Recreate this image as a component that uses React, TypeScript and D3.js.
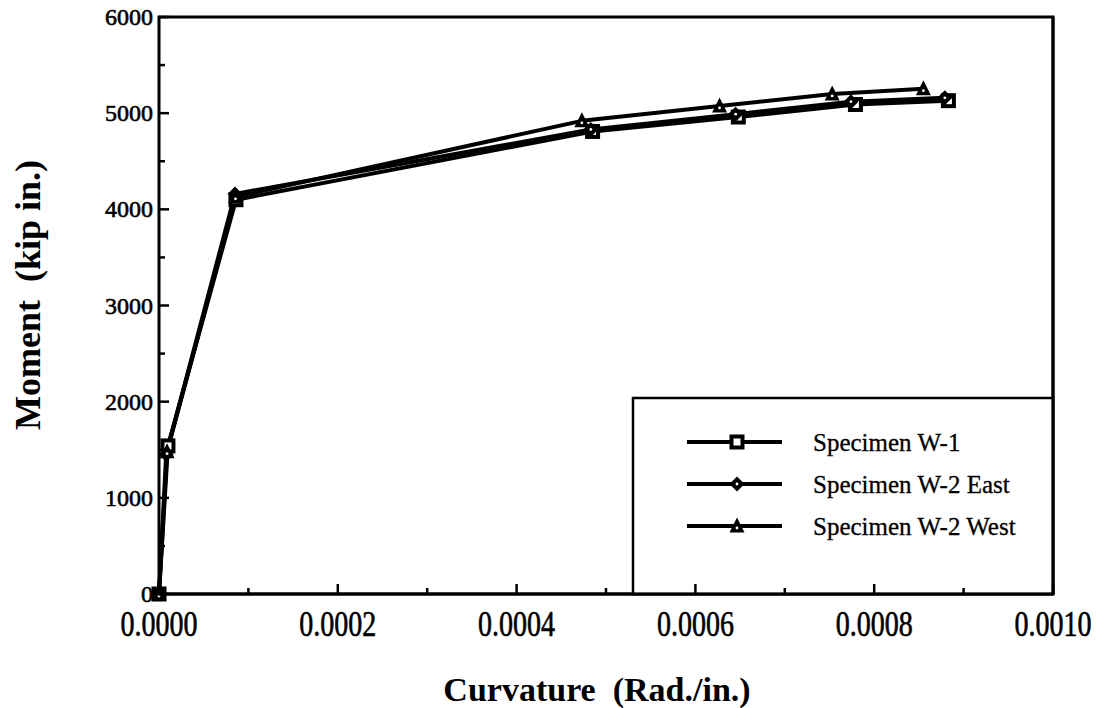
import React from "react";
import * as d3 from "d3";

const seriesNames = ["Specimen W-1", "Specimen W-2 East", "Specimen W-2 West"];
const curvatureW1 = [0, 0.00001, 0.0000861, 0.000485, 0.000648, 0.000779, 0.000883];
const momentW1 = [0, 1540, 4100, 4810, 4960, 5090, 5130];
const curvatureEast = [0, 0.000008, 0.000085, 0.000483, 0.000645, 0.000774, 0.000879];
const momentEast = [0, 1450, 4160, 4830, 4990, 5120, 5160];
const curvatureWest = [0, 0.000009, 0.0000855, 0.000473, 0.000627, 0.000753, 0.000855];
const momentWest = [0, 1480, 4130, 4920, 5075, 5200, 5255];
const xTickValues = [0, 0.0002, 0.0004, 0.0006, 0.0008, 0.001];
const xTickLabels = ["0.0000", "0.0002", "0.0004", "0.0006", "0.0008", "0.0010"];
const yTickValues = [0, 1000, 2000, 3000, 4000, 5000, 6000];
const yTickLabels = ["0", "1000", "2000", "3000", "4000", "5000", "6000"];
const xMinorTicks = [0.0001, 0.0003, 0.0005, 0.0007, 0.0009];
const yMinorTicks = [500, 1500, 2500, 3500, 4500, 5500];

const W = 1098, H = 708;
const L = 159, R = 1053, T = 17, B = 594;
const FONT = "'Liberation Serif', 'Times New Roman', serif";

function Marker({ kind, x, y }: { kind: string; x: number; y: number }) {
  if (kind === "square") {
    return (
      <g>
        <rect x={x - 5.5} y={y - 5.5} width={11} height={11} fill="#fff" stroke="#000" strokeWidth={4} />
        <rect x={x - 1} y={y - 1} width={2} height={2} fill="#fff" />
      </g>
    );
  }
  if (kind === "diamond") {
    const s = 7.5;
    return (
      <g>
        <path d={`M${x},${y - s}L${x + s},${y}L${x},${y + s}L${x - s},${y}Z`} fill="#000" />
        <circle cx={x} cy={y} r={1.4} fill="#fff" />
      </g>
    );
  }
  const s = 7.5;
  return (
    <g>
      <path d={`M${x},${y - s - 1}L${x + s},${y + s - 1}L${x - s},${y + s - 1}Z`} fill="#000" />
      <circle cx={x} cy={y + 2} r={1.4} fill="#fff" />
    </g>
  );
}

export default function App() {
  const x = d3.scaleLinear().domain([0, 0.001]).range([L, R]);
  const y = d3.scaleLinear().domain([0, 6000]).range([B, T]);
  const series = [
    { name: seriesNames[0], xs: curvatureW1, ys: momentW1, kind: "square" },
    { name: seriesNames[1], xs: curvatureEast, ys: momentEast, kind: "diamond" },
    { name: seriesNames[2], xs: curvatureWest, ys: momentWest, kind: "triangle" },
  ];
  const line = d3
    .line<[number, number]>()
    .x((d) => x(d[0]))
    .y((d) => y(d[1]));

  const legX = 633, legY = 398;
  const legRows = [442, 484, 526];

  return (
    <svg
      width={W}
      height={H}
      style={{ position: "absolute", left: 0, top: 0, display: "block", background: "#fff" }}
    >
      <rect x={0} y={0} width={W} height={H} fill="#fff" />
      {series.map((s) => (
        <path
          key={s.name}
          d={line(s.xs.map((v, i) => [v, s.ys[i]] as [number, number])) || ""}
          fill="none"
          stroke="#000"
          strokeWidth={4}
          strokeLinejoin="round"
        />
      ))}
      {series.map((s) =>
        s.xs.map((v, i) => <Marker key={s.name + i} kind={s.kind} x={x(v)} y={y(s.ys[i])} />)
      )}
      <rect x={L} y={T} width={R - L} height={B - T} fill="none" stroke="#000" strokeWidth={3} />
      {yTickValues.map((v) => (
        <line key={"yt" + v} x1={L} x2={L + 10} y1={y(v)} y2={y(v)} stroke="#000" strokeWidth={2.5} />
      ))}
      {yMinorTicks.map((v) => (
        <line key={"ym" + v} x1={L} x2={L + 6} y1={y(v)} y2={y(v)} stroke="#000" strokeWidth={2.5} />
      ))}
      {xTickValues.map((v) => (
        <line key={"xt" + v} x1={x(v)} x2={x(v)} y1={B} y2={B - 10} stroke="#000" strokeWidth={2.5} />
      ))}
      {xMinorTicks.map((v) => (
        <line key={"xm" + v} x1={x(v)} x2={x(v)} y1={B} y2={B - 6} stroke="#000" strokeWidth={2.5} />
      ))}
      {yTickValues.map((v, i) => (
        <text
          key={"yl" + v}
          x={L - 6}
          y={y(v) + 8}
          textAnchor="end"
          fontFamily={FONT}
          fontSize={24}
          fill="#000"
          stroke="#000"
          strokeWidth={0.6}
        >
          {yTickLabels[i]}
        </text>
      ))}
      {xTickValues.map((v, i) => (
        <text
          key={"xl" + v}
          transform={`translate(${x(v)},636) scale(1,1.25)`}
          textAnchor="middle"
          fontFamily={FONT}
          fontSize={28}
          fill="#000"
          stroke="#000"
          strokeWidth={0.5}
        >
          {xTickLabels[i]}
        </text>
      ))}
      <text
        x={597}
        y={701}
        textAnchor="middle"
        fontFamily={FONT}
        fontSize={34}
        fontWeight="bold"
        fill="#000"
        style={{ whiteSpace: "pre" }}
      >
        {"Curvature  (Rad./in.)"}
      </text>
      <text
        transform="translate(40,295) rotate(-90)"
        textAnchor="middle"
        fontFamily={FONT}
        fontSize={36}
        fontWeight="bold"
        fill="#000"
        style={{ whiteSpace: "pre" }}
      >
        {"Moment  (kip in.)"}
      </text>
      <rect x={legX} y={legY} width={R - legX} height={B - legY} fill="#fff" stroke="#000" strokeWidth={2.5} />
      {xTickValues
        .filter((v) => x(v) > legX)
        .map((v) => (
          <line key={"lxt" + v} x1={x(v)} x2={x(v)} y1={B} y2={B - 10} stroke="#000" strokeWidth={2.5} />
        ))}
      {xMinorTicks
        .filter((v) => x(v) > legX)
        .map((v) => (
          <line key={"lxm" + v} x1={x(v)} x2={x(v)} y1={B} y2={B - 6} stroke="#000" strokeWidth={2.5} />
        ))}
      {series.map((s, i) => (
        <g key={"leg" + i}>
          <line x1={687} x2={782} y1={legRows[i]} y2={legRows[i]} stroke="#000" strokeWidth={4} />
          <Marker kind={s.kind} x={737} y={legRows[i]} />
          <text
            x={813}
            y={legRows[i] + 9}
            fontFamily={FONT}
            fontSize={25}
            fill="#000"
            stroke="#000"
            strokeWidth={0.3}
          >
            {s.name}
          </text>
        </g>
      ))}
      <line x1={R} x2={R} y1={T} y2={B} stroke="#000" strokeWidth={3} />
      <line x1={L} x2={R} y1={B} y2={B} stroke="#000" strokeWidth={3} />
    </svg>
  );
}
